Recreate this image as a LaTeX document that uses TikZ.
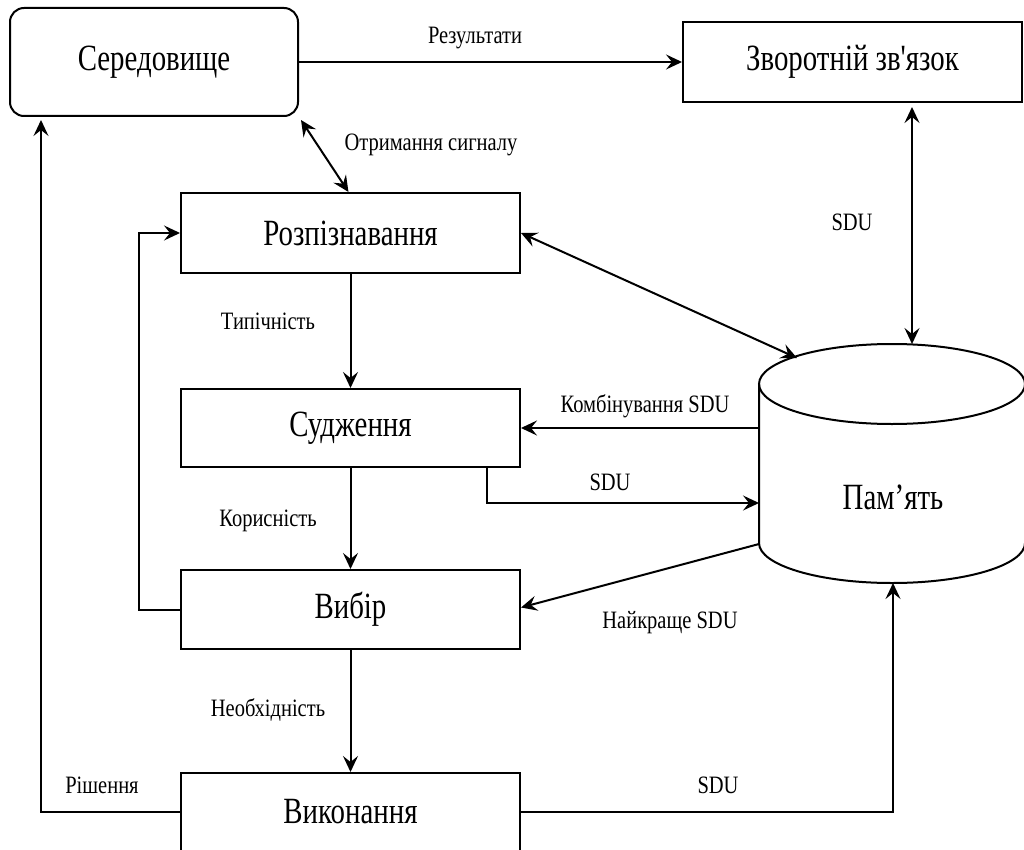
\documentclass[tikz,border=0pt]{standalone}
\usepackage{fontspec}
\setmainfont{Liberation Serif}[FakeStretch=0.78,Ligatures=TeXOff]
\newfontfamily\smallf{Liberation Serif}[FakeStretch=0.82,Ligatures=TeXOff]
\usetikzlibrary{arrows.meta}
\begin{document}
\begin{tikzpicture}[x=1pt,y=-1pt,
  every path/.style={line width=2pt},
  box/.style={draw, line width=2pt, minimum width=339pt, minimum height=79pt, inner sep=0pt, font=\fontsize{37}{40}\selectfont},
  lbl/.style={inner sep=0pt, font=\smallf\fontsize{25}{28}\selectfont},
  arr/.style={-{Stealth[length=16pt,width=15pt,inset=6pt]}},
  darr/.style={{Stealth[length=16pt,width=15pt,inset=6pt]}-{Stealth[length=16pt,width=15pt,inset=6pt]}}]
\useasboundingbox (0,0) rectangle (1024,850);
% boxes
\node[box, rounded corners=14pt, minimum width=288pt, minimum height=108pt] (sered) at (154,62) {Середовище};
\node[box, minimum height=80pt] (zvor) at (852.5,62) {Зворотній зв'язок};
\node[box, minimum height=80pt] (rozp) at (350.5,233) {Розпізнавання};
\node[box, minimum height=78pt] (sud) at (350.5,428) {Судження};
\node[box] (vyb) at (350.5,609.5) {Вибір};
\node[box, minimum height=78pt] (vyk) at (350.5,812) {Виконання};
% memory cylinder
\draw[fill=white] (759,384) -- (759,543) arc[start angle=180, end angle=0, x radius=133, y radius=40] -- (1025,384);
\draw (892,384) ellipse [x radius=133, y radius=40];
\node[inner sep=0pt, font=\fontsize{37}{40}\selectfont] (mem) at (893,497) {Пам’ять};
\coordinate (memtop) at (912,344);
\coordinate (memA) at (797,358);
\coordinate (memL1) at (759,428);
\coordinate (memL2) at (759,503);
\coordinate (memL3) at (759,544);
\coordinate (membot) at (893,583);
% connectors
\draw[arr] (sered.east) -- (zvor.west);
\draw[darr] ([shift={(2pt,-3pt)}]sered.south east) -- ([xshift=-2pt]rozp.north);
\draw[darr] ([yshift=-4pt]zvor.south -| memtop) -- (memtop);
\draw[darr] (rozp.east) -- (memA);
\draw[arr] (rozp) -- (sud);
\draw[arr] (memL1) -- (sud.east);
\draw[arr] ([xshift=136.5pt]sud.south) |- (memL2);
\draw[arr] (sud) -- (vyb);
\draw[arr] (memL3) -- ([yshift=2pt]vyb.east);
\draw[arr] (vyb.west) -- ++(-41,0) |- (rozp.west);
\draw[arr] (vyb) -- (vyk);
\draw[arr] (vyk.west) -| ([xshift=32pt,yshift=-3pt]sered.south west);
\draw[arr] (vyk.east) -| (membot);
% labels
\node[lbl] (l1) at (475,38) {Результати};
\node[lbl] (l2) at (431,145) {Отримання сигналу};
\node[lbl] (l3) at (852,222) {SDU};
\node[lbl] (l4) at (268,321) {Типічність};
\node[lbl] (l5) at (645,406) {Комбінування SDU};
\node[lbl] (l6) at (610,482) {SDU};
\node[lbl] (l7) at (268,521) {Корисність};
\node[lbl] (l8) at (670,623) {Найкраще SDU};
\node[lbl] (l9) at (268,710) {Необхідність};
\node[lbl] (l10) at (102,785) {Рішення};
\node[lbl] (l11) at (718,785) {SDU};
\end{tikzpicture}
\end{document}
